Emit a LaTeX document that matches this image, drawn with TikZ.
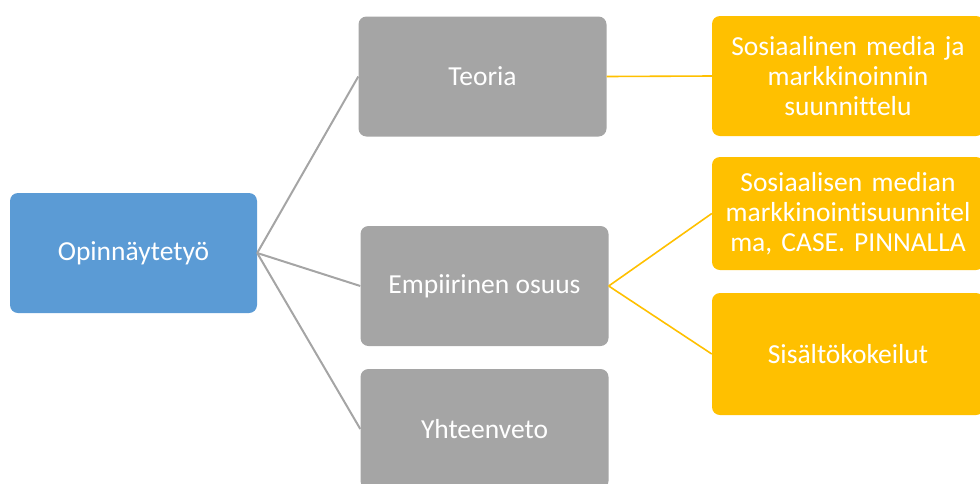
\documentclass[tikz,border=0pt]{standalone}
\usepackage{fontspec}
\setmainfont{Carlito}[Ligatures=NoCommon]
\definecolor{cblue}{HTML}{5B9BD5}
\definecolor{cgray}{HTML}{A5A5A5}
\definecolor{corange}{HTML}{FFC000}
\begin{document}
\begin{tikzpicture}[x=1pt,y=-1pt,
  box/.style={rounded corners=8pt,minimum height=120pt,text=white,align=center,
    font=\fontsize{27.5}{30}\selectfont,inner sep=2pt},
  bluebox/.style={box,fill=cblue,minimum width=247pt},
  graybox/.style={box,fill=cgray,minimum width=248pt},
  orangebox/.style={box,fill=corange,minimum width=272pt,text width=268pt},
  gline/.style={draw=cgray,line width=2pt},
  oline/.style={draw=corange,line width=1.6pt}]
\useasboundingbox (0,0) rectangle (980,483);
\clip (0,0) rectangle (980,483);
\node[bluebox] (op) at (133.5,253) {Opinnäytetyö};
\node[graybox] (te) at (482.5,76.5) {Teoria};
\node[graybox] (em) at (484.5,286) {Empiirinen osuus};
\node[graybox] (yh) at (484.5,429) {Yhteenveto};
\node[orangebox] (o1) at (848,76) {Sosiaalinen media ja\\markkinoinnin\\suunnittelu};
\node[orangebox,minimum height=113pt] (o2) at (848,213.5) {Sosiaalisen median\\markkinointisuunnitel\\ma, CASE. PINNALLA};
\node[orangebox,minimum height=122pt] (o3) at (848,354) {Sisältökokeilut};
\draw[gline] (op.east) -- (te.west);
\draw[gline] (op.east) -- (em.west);
\draw[gline] (op.east) -- (yh.west);
\draw[oline] (te.east) -- (o1.west);
\draw[oline] (em.east) -- (o2.west);
\draw[oline] (em.east) -- (o3.west);
\end{tikzpicture}
\end{document}
